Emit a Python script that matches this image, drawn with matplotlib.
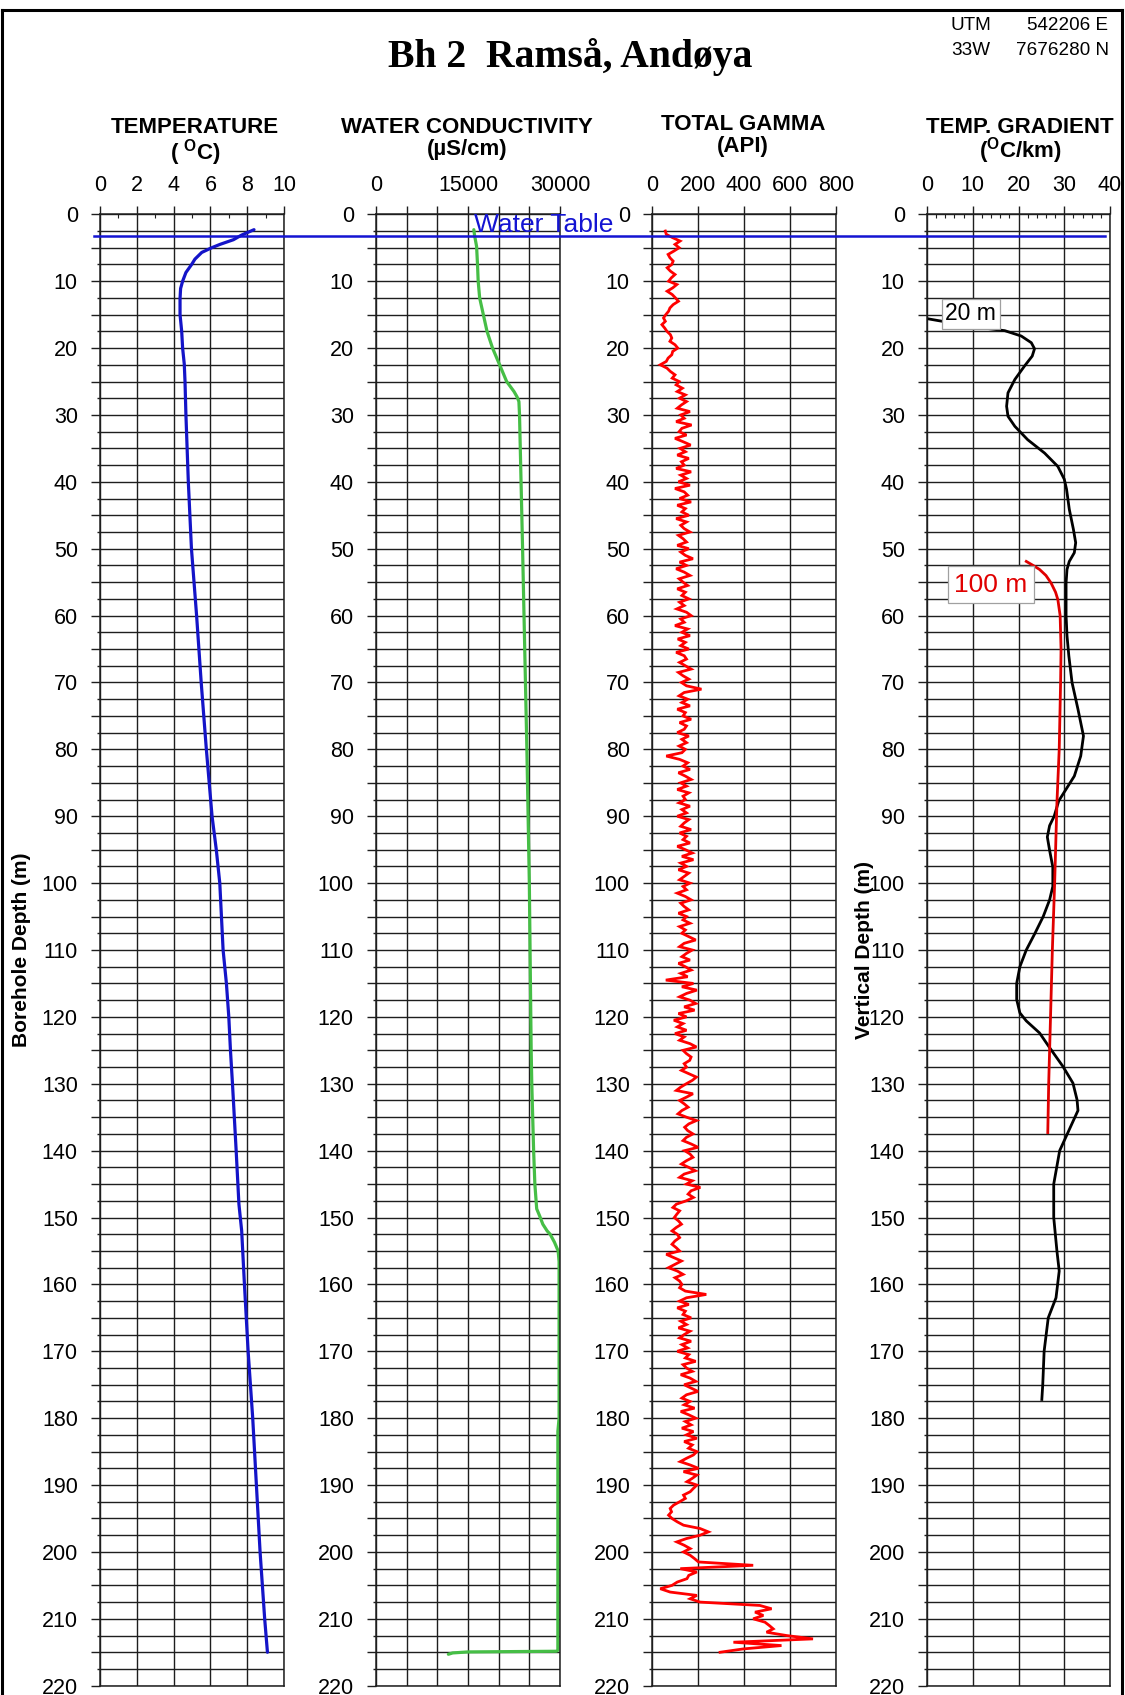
"""Borehole log Bh 2 Ramså, Andøya: temperature, water conductivity, total gamma and temperature gradient."""

import numpy as np
import matplotlib
matplotlib.use("Agg")
from matplotlib import pyplot as plt
from matplotlib.lines import Line2D
from matplotlib.ticker import MultipleLocator, FuncFormatter
from matplotlib.transforms import blended_transform_factory

plt.rcParams['font.family'] = ['Liberation Sans', 'DejaVu Sans']
plt.rcParams['mathtext.fontset'] = 'custom'
plt.rcParams['mathtext.rm'] = 'Liberation Sans:bold'
plt.rcParams['mathtext.it'] = 'Liberation Sans:bold'
plt.rcParams['mathtext.bf'] = 'Liberation Sans:bold'

# ---- log data (depth in m) ----
water_table = 3.2

temp_depth = [2.3, 3.1, 3.8, 4.5, 5.0, 5.7, 6.7, 7.5, 8.7, 10.0, 11.1, 12.6, 15.0, 17.5,
              20.0, 22.4, 25.0, 30.0, 40.0, 50.0, 60.0, 70.0, 80.0, 90.0, 95.0, 100.0,
              105.0, 110.0, 115.0, 120.0, 125.0, 130.0, 140.0, 148.0, 152.0, 160.0,
              170.0, 180.0, 190.0, 200.0, 210.0, 215.0]
temp_c = [8.37, 7.70, 7.25, 6.52, 6.07, 5.53, 5.16, 4.98, 4.67, 4.49, 4.38, 4.35, 4.35, 4.44,
          4.49, 4.58, 4.62, 4.67, 4.80, 4.97, 5.25, 5.50, 5.78, 6.09, 6.32, 6.51,
          6.60, 6.69, 6.87, 7.00, 7.09, 7.20, 7.40, 7.55, 7.70, 7.85,
          8.05, 8.30, 8.50, 8.70, 8.95, 9.10]

cond_depth = [2.3, 3.1, 4.8, 7.5, 10.0, 12.5, 15.0, 17.5, 20.0, 22.6, 25.0, 26.5, 27.3,
              28.0, 30.0, 50.0, 80.0, 100.0, 125.0, 130.0, 140.0, 145.0, 148.7, 149.8,
              151.0, 152.0, 152.5, 153.7, 155.0, 156.6, 180.0, 182.0, 214.7, 214.85,
              214.95, 215.1, 215.3]
cond_us = [15950, 16060, 16400, 16550, 16660, 16900, 17500, 18100, 19000, 20200, 21300,
           22500, 23000, 23300, 23400, 23900, 24600, 25000, 25300, 25400, 25700, 25900,
           26200, 26700, 27200, 27900, 28400, 29100, 29700, 29850, 29850, 29650, 29650,
           29400, 15000, 12500, 11800]

# total gamma every 0.5 m from 2.5 m to 215 m
gamma_top = 2.5
gamma_api = [
    58, 62, 90, 122, 100, 118, 95, 70, 78, 92,
    86, 66, 80, 100, 84, 72, 108, 90, 66, 88,
    102, 115, 92, 78, 72, 60, 50, 58, 43, 55,
    65, 80, 86, 78, 100, 112, 90, 86, 70, 62,
    36, 65, 80, 100, 88, 118, 105, 132, 110, 145,
    120, 150, 128, 110, 165, 125, 140, 105, 172, 130,
    118, 150, 100, 135, 168, 122, 145, 110, 160, 128,
    140, 105, 170, 125, 150, 115, 165, 100, 140, 155,
    120, 170, 110, 145, 130, 160, 105, 150, 125, 140,
    165, 115, 135, 150, 110, 160, 125, 145, 178, 120,
    150, 105, 140, 165, 118, 135, 155, 110, 145, 130,
    160, 120, 140, 108, 150, 170, 125, 140, 100, 155,
    130, 165, 112, 145, 125, 160, 105, 140, 150, 120,
    145, 170, 115, 135, 160, 128, 150, 215, 140, 118,
    155, 130, 165, 110, 145, 135, 170, 120, 150, 140,
    110, 160, 130, 150, 118, 145, 130, 62, 120, 155,
    135, 165, 115, 145, 170, 125, 150, 110, 160, 135,
    145, 118, 165, 130, 150, 110, 160, 140, 125, 170,
    120, 150, 135, 165, 110, 145, 175, 130, 180, 125,
    150, 115, 160, 140, 120, 165, 135, 150, 110, 145,
    170, 125, 140, 160, 115, 150, 135, 165, 120, 145,
    130, 160, 190, 140, 120, 175, 150, 130, 165, 115,
    145, 170, 125, 155, 60, 180, 130, 195, 150, 120,
    165, 190, 140, 185, 115, 150, 95, 135, 110, 150,
    100, 140, 120, 165, 193, 135, 150, 170, 164, 140,
    150, 128, 160, 193, 175, 149, 125, 106, 178, 150,
    120, 140, 157, 130, 113, 150, 193, 160, 142, 155,
    178, 150, 135, 170, 200, 142, 165, 178, 150, 128,
    160, 188, 140, 120, 175, 150, 210, 170, 157, 180,
    149, 106, 91, 120, 108, 97, 115, 128, 105, 87,
    110, 120, 100, 87, 105, 120, 62, 95, 128, 100,
    72, 110, 135, 100, 120, 130, 120, 145, 236, 150,
    120, 160, 110, 145, 135, 170, 125, 150, 115, 165,
    140, 120, 170, 130, 155, 110, 160, 145, 190, 135,
    150, 175, 125, 165, 190, 140, 170, 200, 150, 130,
    165, 140, 185, 125, 160, 190, 145, 170, 130, 180,
    150, 195, 140, 175, 159, 195, 180, 150, 123, 166,
    202, 137, 195, 175, 152, 195, 180, 166, 137, 145,
    120, 94, 79, 85, 72, 87, 110, 137, 209, 245,
    209, 150, 108, 140, 166, 137, 166, 185, 202, 440,
    123, 195, 160, 152, 110, 87, 36, 79, 195, 166,
    209, 469, 520, 448, 484, 440, 491, 510, 527, 498,
    585, 700, 354, 563, 397, 296,
]
gamma_depth = gamma_top + 0.5 * np.arange(len(gamma_api))

grad20_depth = [15.6, 15.9, 16.9, 17.4, 18.2, 19.2, 20.1, 21.2, 22.7, 24.7, 26.7, 28.7,
                30.2, 31.7, 33.7, 35.7, 37.7, 39.6, 41.1, 44.1, 47.1, 49.1, 50.6, 51.9,
                53.1, 55.1, 60.0, 63.0, 66.0, 70.0, 74.0, 78.0, 81.0, 84.0, 87.7, 90.0,
                91.4, 93.1, 95.1, 97.6, 100.5, 102.5, 105.0, 107.5, 110.0, 112.5, 115.0,
                117.4, 119.4, 120.6, 122.4, 124.6, 127.4, 129.9, 132.4, 134.0, 137.0,
                140.0, 145.0, 150.0, 155.0, 158.0, 162.0, 165.0, 170.0, 175.0, 177.2]
grad20 = [0.0, 2.5, 11.2, 17.0, 20.6, 22.8, 23.5, 23.0, 21.3, 19.2, 17.7, 17.4,
          17.7, 19.2, 22.0, 25.7, 28.6, 30.0, 30.5, 31.1, 32.0, 32.5, 32.2, 31.1,
          30.6, 30.4, 30.4, 30.6, 31.0, 31.7, 33.0, 34.2, 33.6, 32.2, 28.8, 27.8,
          26.8, 26.3, 26.8, 27.5, 27.5, 26.8, 25.4, 23.6, 21.7, 20.3, 19.6,
          19.6, 20.3, 21.7, 24.6, 26.8, 29.7, 31.9, 32.8, 33.0, 31.0,
          29.0, 27.7, 27.7, 28.4, 28.9, 28.2, 26.5, 25.6, 25.3, 25.1]

grad100_depth = [51.9, 52.5, 53.1, 54.0, 55.1, 56.5, 57.6, 60.0, 65.0, 70.0, 80.0, 88.0,
                 100.0, 110.0, 120.0, 130.0, 137.3]
grad100 = [21.7, 23.2, 24.6, 26.0, 27.1, 28.1, 28.6, 29.1, 29.3, 29.2, 28.9, 28.4,
           27.9, 27.4, 27.0, 26.6, 26.4]

# ---- figure layout in pixels ----
W, H = 1125, 1695
fig = plt.figure(figsize=(W / 100, H / 100), dpi=100)
TOP, BOT = 214.3, 1685.7
GRID = '#1e1e1e'
TICK_FS = 15.5


def track(x0, x1):
    return fig.add_axes([x0 / W, 1 - BOT / H, (x1 - x0) / W, (BOT - TOP) / H])


def style_track(ax, xmax, xmajor, xminor=None, xlabel_step=None):
    ax.set_xlim(0, xmax)
    ax.set_ylim(220, 0)
    ax.xaxis.set_ticks_position('top')
    ax.xaxis.set_major_locator(MultipleLocator(xmajor))
    step = xlabel_step or xmajor
    ax.xaxis.set_major_formatter(
        FuncFormatter(lambda v, p: f"{v:.0f}" if abs(v / step - round(v / step)) < 1e-6 else ""))
    if xminor:
        ax.xaxis.set_minor_locator(MultipleLocator(xminor))
        ax.tick_params(axis='x', which='minor', direction='in', length=3, width=0.8, color=GRID)
    ax.yaxis.set_major_locator(MultipleLocator(5))
    ax.yaxis.set_minor_locator(MultipleLocator(2.5))
    ax.yaxis.set_major_formatter(
        FuncFormatter(lambda v, p: f"{v:.0f}" if round(v) % 10 == 0 else ""))
    ax.tick_params(axis='x', which='major', direction='out', length=5.8, width=1.0,
                   pad=7.5, labelsize=TICK_FS, color=GRID)
    ax.tick_params(axis='y', which='major', length=6.5, width=1.0, pad=9.5,
                   labelsize=TICK_FS, color=GRID)
    ax.tick_params(axis='y', which='minor', length=2.3, width=1.0, color=GRID)
    ax.grid(True, which='major', axis='x', color=GRID, lw=1.0)
    ax.grid(True, which='both', axis='y', color=GRID, lw=1.0)
    for s in ax.spines.values():
        s.set_color(GRID)
        s.set_linewidth(1.1)
    ax.set_axisbelow(True)


ax_t = track(100, 284)
ax_c = track(376, 560)
ax_g = track(652, 836)
ax_d = track(927, 1110)

style_track(ax_t, 10, 2, xminor=1)
style_track(ax_c, 30000, 5000, xlabel_step=15000)
style_track(ax_g, 800, 200)
style_track(ax_d, 40, 10, xminor=2)

ax_t.plot(temp_c, temp_depth, color='#1414c8', lw=2.3, solid_capstyle='round')
ax_c.plot(cond_us, cond_depth, color='#46be46', lw=2.3, solid_capstyle='round')
ax_g.plot(gamma_api, gamma_depth, color='#ff0000', lw=2.0, solid_joinstyle='miter')
ax_d.plot(grad20, grad20_depth, color='black', lw=2.0)
ax_d.plot(grad100, grad100_depth, color='#e00000', lw=2.0)

ax_d.text(9.6, 14.9, "20 m", ha='center', va='center', fontsize=16.5, zorder=6,
          bbox=dict(boxstyle='square,pad=0.16', fc='white', ec='#a0a0a0', lw=0.9))
ax_d.text(14.0, 55.4, "100 m", ha='center', va='center', fontsize=19, color='#e00000',
          zorder=6, bbox=dict(boxstyle='square,pad=0.24', fc='white', ec='#a0a0a0', lw=0.9))

# water table across all tracks
wt = blended_transform_factory(fig.transFigure, ax_t.transData)
fig.add_artist(Line2D([94 / W, 1105 / W], [water_table, water_table], transform=wt,
                      color='#1414d2', lw=1.8, zorder=10))
fig.text(474 / W, 2.6, "Water Table", transform=wt, color='#1414d2', fontsize=19,
         ha='left', va='baseline', zorder=11)

# headings
fig.text(570 / W, 1 - 67 / H, "Bh 2  Ramså, Andøya", family='Liberation Serif',
         weight='bold', fontsize=28.5, ha='center', va='baseline')
fig.text(951 / W, 1 - 30 / H, "UTM", fontsize=13.6, ha='left', va='baseline')
fig.text(1108 / W, 1 - 30 / H, "542206 E", fontsize=13.6, ha='right', va='baseline')
fig.text(951 / W, 1 - 55 / H, "33W", fontsize=13.6, ha='left', va='baseline')
fig.text(1109 / W, 1 - 55 / H, "7676280 N", fontsize=13.6, ha='right', va='baseline')

titles = [
    (195, 133, "TEMPERATURE", 160, r"( $^{O}$C)"),
    (467, 133, "WATER CONDUCTIVITY", 155, "(µS/cm)"),
    (743, 130, "TOTAL GAMMA", 152, "(API)"),
    (1020, 133, "TEMP. GRADIENT", 157, r"($^{O}$C/km)"),
]
for cx, y1, t1, y2, t2 in titles:
    fig.text(cx / W, 1 - y1 / H, t1, fontsize=16, weight='bold', ha='center', va='baseline')
    fig.text(cx / W, 1 - y2 / H, t2, fontsize=16, weight='bold', ha='center', va='baseline')

fig.text(22 / W, 1 - 950 / H, "Borehole Depth (m)", rotation=90, fontsize=15,
         weight='bold', ha='center', va='center')
fig.text(864 / W, 1 - 950 / H, "Vertical Depth (m)", rotation=90, fontsize=15,
         weight='bold', ha='center', va='center', zorder=12)

# page frame
for xs, ys in [([2 / W, 2 / W], [0, 1 - 10 / H]),
               ([2 / W, 1122 / W], [1 - 10 / H, 1 - 10 / H]),
               ([1122 / W, 1122 / W], [0, 1 - 10 / H])]:
    fig.add_artist(Line2D(xs, ys, color='black', lw=2.2))

fig.savefig("out.png", dpi=100)
